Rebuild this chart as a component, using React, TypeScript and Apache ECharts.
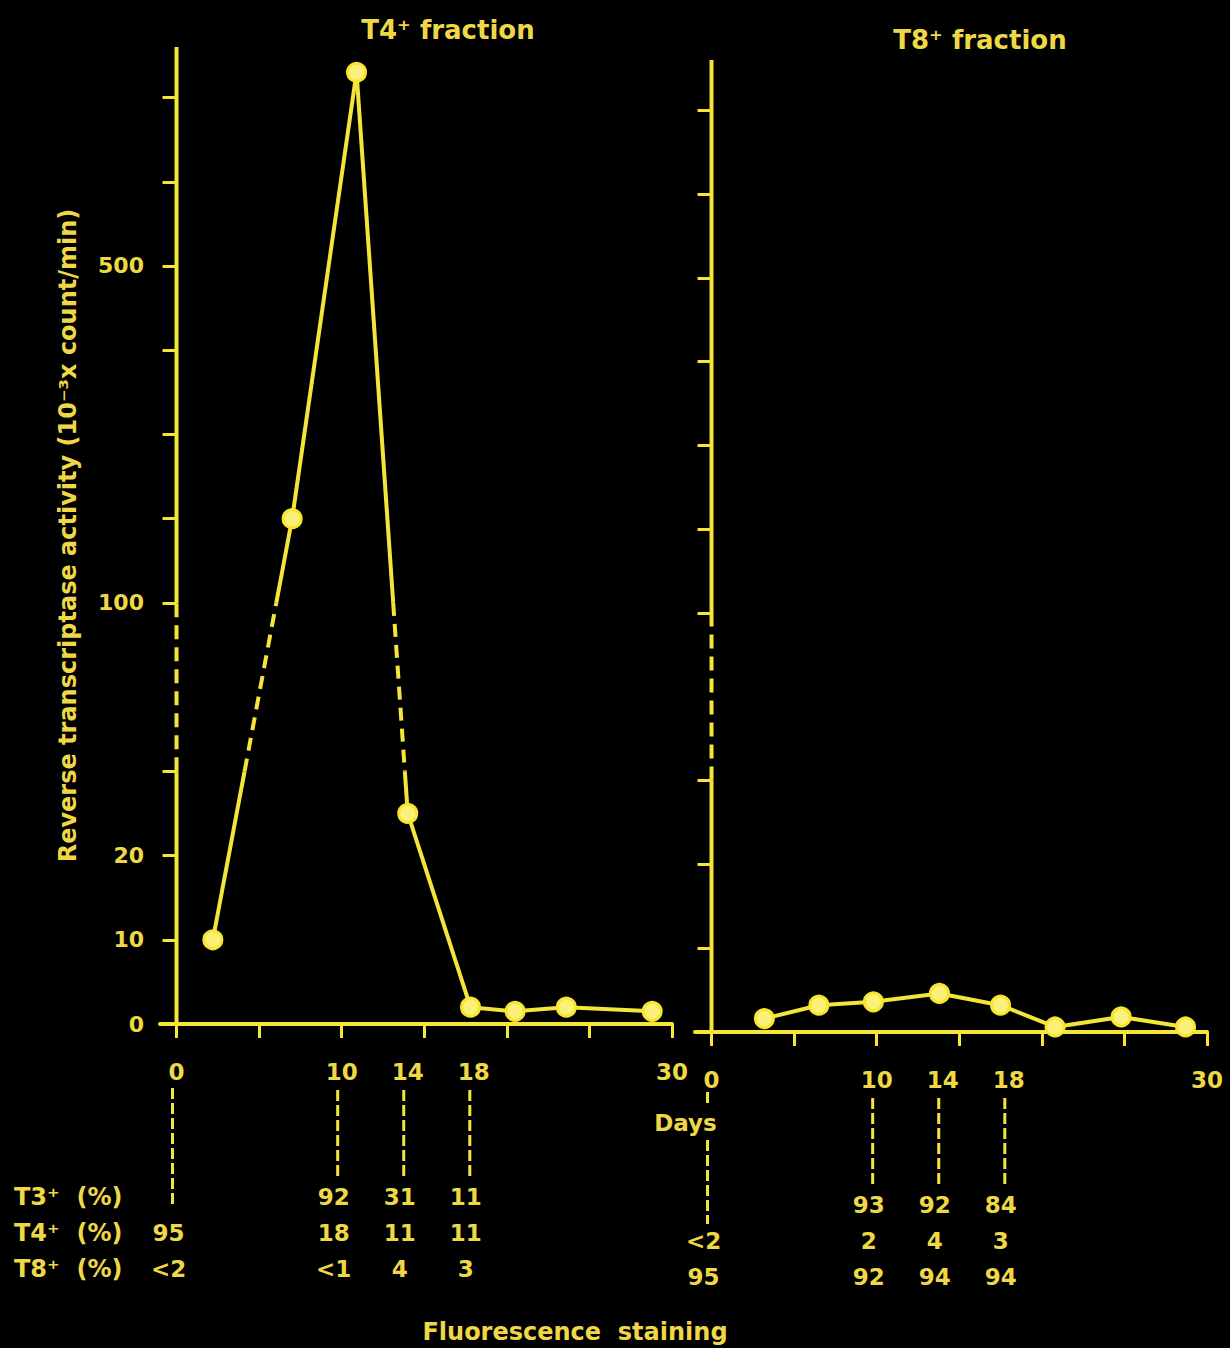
import { useEffect, useRef } from 'react';
import * as echarts from 'echarts';

// ---------- data ----------
const tickDays = [0, 5, 10, 15, 20, 25, 30];
const labelDays = [0, 10, 14, 18, 30];
const yTickValues = [0, 10, 20, 30, 100, 200, 300, 400, 500, 600, 700];
const yLabelValues = [0, 10, 20, 100, 500];

const t4Days = [2.2, 7, 10.9, 14, 17.8, 20.5, 23.6, 28.8];
const t4Activity = [10, 200, 730, 25, 2, 1.5, 2, 1.5];
const t8Days = [3.2, 6.5, 9.8, 13.8, 17.5, 20.8, 24.8, 28.7];
const t8Activity = [1.6, 3.2, 3.6, 4.6, 3.2, 0.6, 1.8, 0.6];

const stainDays = [0, 10, 14, 18];
const stainRowLabels = ['T3⁺  (%)', 'T4⁺  (%)', 'T8⁺  (%)'];
const t4FractionT3 = ['', '92', '31', '11'];
const t4FractionT4 = ['95', '18', '11', '11'];
const t4FractionT8 = ['<2', '<1', '4', '3'];
const t8FractionT3 = ['', '93', '92', '84'];
const t8FractionT4 = ['<2', '2', '4', '3'];
const t8FractionT8 = ['95', '92', '94', '94'];

const panelTitles = ['T4⁺ fraction', 'T8⁺ fraction'];
const yAxisTitle = 'Reverse transcriptase activity (10⁻³x count/min)';
const footTitle = 'Fluorescence  staining';

// ---------- broken axis mapping ----------
const BREAK_LOW = 30;
const BREAK_HIGH = 100;
const Y_MAX = 11.6;
function toAxis(v: number): number {
  if (v <= BREAK_LOW) return v / 10;
  if (v >= BREAK_HIGH) return 5 + (v - BREAK_HIGH) / 100;
  return 3 + (2 * (v - BREAK_LOW)) / (BREAK_HIGH - BREAK_LOW);
}

const LINE = '#F5E53B';
const TEXT = '#EFD846';
const FONT = '"DejaVu Sans", "Liberation Sans", sans-serif';

function brokenRender(points: number[][], dash: number[], width: number) {
  return (params: any, api: any) => {
    const i = params.dataIndex;
    if (i >= points.length - 1) return null;
    const a = api.coord(points[i]);
    const b = api.coord(points[i + 1]);
    const yLow = api.coord([0, toAxis(BREAK_LOW)])[1];
    const yHigh = api.coord([0, toAxis(BREAK_HIGH)])[1];
    const ts = [0, 1];
    [yLow, yHigh].forEach((yc) => {
      if (b[1] !== a[1]) {
        const t = (yc - a[1]) / (b[1] - a[1]);
        if (t > 0 && t < 1) ts.push(t);
      }
    });
    ts.sort((p, q) => p - q);
    const children: any[] = [];
    for (let k = 0; k < ts.length - 1; k++) {
      const t0 = ts[k];
      const t1 = ts[k + 1];
      const x1 = a[0] + (b[0] - a[0]) * t0;
      const y1 = a[1] + (b[1] - a[1]) * t0;
      const x2 = a[0] + (b[0] - a[0]) * t1;
      const y2 = a[1] + (b[1] - a[1]) * t1;
      const mid = (y1 + y2) / 2;
      const inBreak = mid < yLow - 0.5 && mid > yHigh + 0.5;
      children.push({
        type: 'line',
        shape: { x1, y1, x2, y2 },
        style: { stroke: LINE, lineWidth: width, lineDash: inBreak ? dash : null, lineCap: 'butt' },
      });
    }
    return { type: 'group', children };
  };
}

function panelSeries(idx: number, days: number[], vals: number[]) {
  const pts = days.map((d, i) => [d, toAxis(vals[i])]);
  const axisPts = [[0, 0], [0, Y_MAX]];
  return [
    {
      type: 'custom',
      xAxisIndex: idx,
      yAxisIndex: idx,
      data: axisPts,
      renderItem: brokenRender(axisPts, [14, 8], 4),
      z: 2,
      silent: true,
    },
    {
      type: 'custom',
      xAxisIndex: idx,
      yAxisIndex: idx,
      data: pts,
      renderItem: brokenRender(pts, [13, 8], 4),
      z: 3,
      silent: true,
    },
    {
      type: 'scatter',
      xAxisIndex: idx,
      yAxisIndex: idx,
      data: pts,
      symbol: 'circle',
      symbolSize: 18,
      itemStyle: { color: '#FBF07A', borderColor: '#F7E52E', borderWidth: 3, opacity: 1 },
      z: 5,
    },
  ];
}

function xAxisCfg(idx: number) {
  return {
    type: 'value',
    gridIndex: idx,
    min: -1,
    max: 30,
    axisLine: { show: true, onZero: false, lineStyle: { color: LINE, width: 4 } },
    axisTick: { show: true, customValues: tickDays, length: 14, lineStyle: { color: LINE, width: 3 } },
    axisLabel: {
      customValues: labelDays,
      margin: 36,
      color: TEXT,
      fontSize: 23,
      fontWeight: 'bold',
      fontFamily: FONT,
    },
    splitLine: { show: false },
  };
}

function yAxisCfg(idx: number) {
  const labelFor = (u: number) => {
    const v = yLabelValues.find((x) => Math.abs(toAxis(x) - u) < 1e-6);
    return v === undefined ? '' : String(v);
  };
  return {
    type: 'value',
    gridIndex: idx,
    min: 0,
    max: Y_MAX,
    axisLine: { show: false, onZero: true },
    axisTick: {
      show: true,
      customValues: yTickValues.map(toAxis),
      length: 14,
      lineStyle: { color: LINE, width: 3 },
    },
    axisLabel: {
      show: idx === 0,
      customValues: yLabelValues.map(toAxis),
      formatter: labelFor,
      margin: 16,
      color: TEXT,
      fontSize: 22,
      fontWeight: 'bold',
      fontFamily: FONT,
    },
    splitLine: { show: false },
    name: idx === 0 ? yAxisTitle : '',
    nameLocation: 'middle',
    nameRotate: 90,
    nameGap: 80,
    nameTextStyle: { color: TEXT, fontSize: 24, fontWeight: 'bold', fontFamily: FONT },
  };
}

export default function App() {
  const ref = useRef<HTMLDivElement>(null);
  useEffect(() => {
    if (!ref.current) return;
    const chart = echarts.init(ref.current, null, { renderer: 'svg' });
    chart.setOption({
      animation: false,
      backgroundColor: '#000',
      grid: [
        { left: 160, top: 47, width: 512, height: 977 },
        { left: 695, top: 60, width: 512, height: 972 },
      ],
      xAxis: [xAxisCfg(0), xAxisCfg(1)],
      yAxis: [yAxisCfg(0), yAxisCfg(1)],
      series: [...panelSeries(0, t4Days, t4Activity), ...panelSeries(1, t8Days, t8Activity)],
    });

    const txt = (x: number, y: number, text: string, size: number, align = 'center') => ({
      type: 'text',
      x,
      y,
      silent: true,
      style: {
        text,
        fill: TEXT,
        font: `bold ${size}px ${FONT}`,
        align,
        verticalAlign: 'middle',
      },
    });
    const vline = (x: number, y1: number, y2: number) => ({
      type: 'line',
      silent: true,
      shape: { x1: x, y1, x2: x, y2 },
      style: { stroke: LINE, lineWidth: 3, lineDash: [11, 4] },
    });

    const graphics: any[] = [];
    graphics.push(txt(448, 30, panelTitles[0], 26));
    graphics.push(txt(980, 40, panelTitles[1], 26));
    graphics.push(txt(575, 1332, footTitle, 24));

    const tables = [
      [t4FractionT3, t4FractionT4, t4FractionT8],
      [t8FractionT3, t8FractionT4, t8FractionT8],
    ];
    for (let p = 0; p < 2; p++) {
      const base = chart.convertToPixel({ yAxisIndex: p } as any, 0) as number;
      const rowY = [base + 173, base + 209, base + 245];
      stainDays.forEach((d, c) => {
        const px = (chart.convertToPixel({ xAxisIndex: p } as any, d) as number) - 4;
        if (d === 0) {
          if (p === 0) {
            graphics.push(vline(px, base + 64, base + 180));
          } else {
            graphics.push(vline(px, base + 60, base + 74));
            graphics.push(txt(px - 22, base + 91, 'Days', 23));
            graphics.push(vline(px, base + 108, base + 192));
          }
        } else {
          graphics.push(vline(px, base + 66, base + 156));
        }
        tables[p].forEach((row, r) => {
          if (row[c]) graphics.push(txt(px - 4, rowY[r], row[c], 23));
        });
      });
      if (p === 0) {
        stainRowLabels.forEach((lab, r) => graphics.push(txt(14, rowY[r], lab, 24, 'left')));
      }
    }
    chart.setOption({ graphic: graphics });
    return () => chart.dispose();
  }, []);
  return (
    <div
      ref={ref}
      style={{ position: 'absolute', left: 0, top: 0, width: 1230, height: 1348, background: '#000' }}
    />
  );
}
